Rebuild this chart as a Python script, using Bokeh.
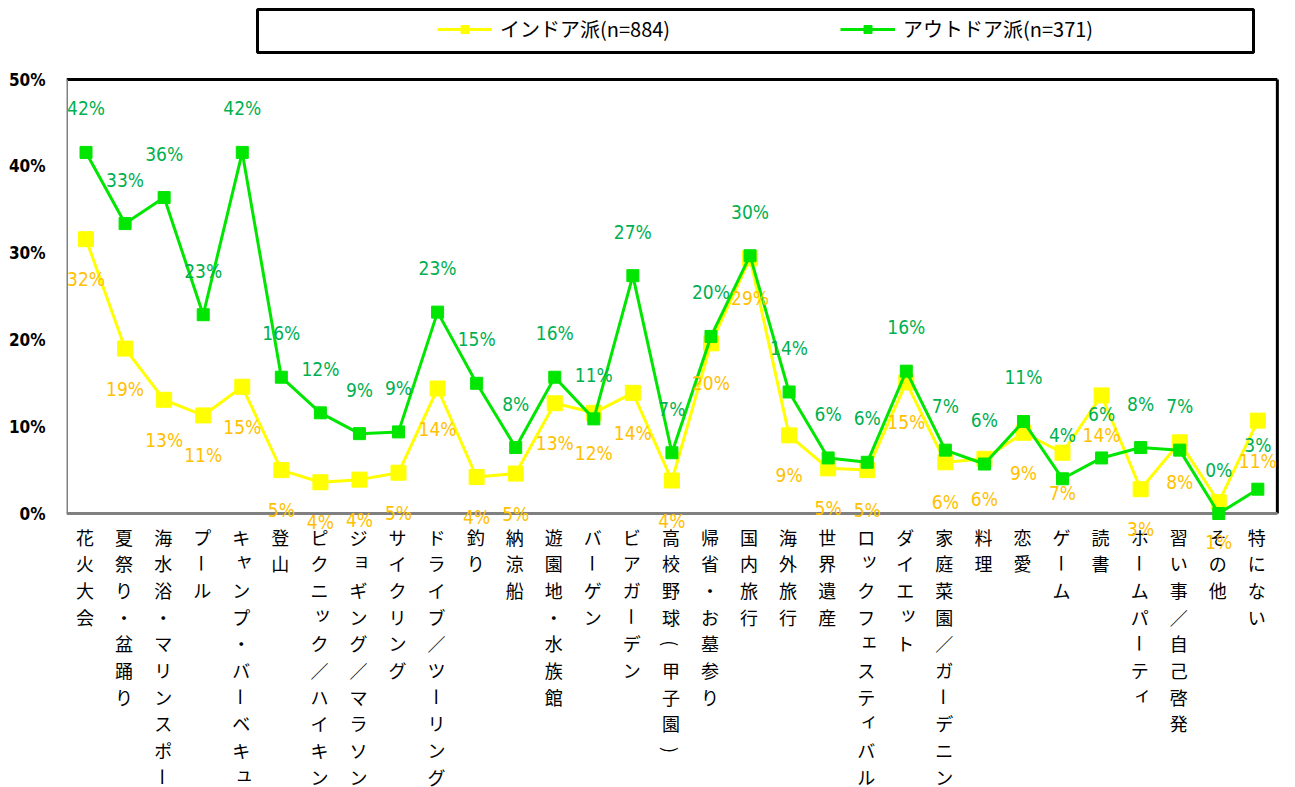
import math
from bokeh.plotting import figure
from bokeh.models import (Range1d, FixedTicker, PrintfTickFormatter, ColumnDataSource,
                          Legend, LegendItem)
from bokeh.core.properties import value
from bokeh.embed import file_html
from bokeh.resources import INLINE

# ---------------- data ----------------
categories = ["花火大会", "夏祭り・盆踊り", "海水浴・マリンスポーツ", "プール", "キャンプ・バーベキュー",
              "登山", "ピクニック／ハイキング", "ジョギング／マラソン", "サイクリング", "ドライブ／ツーリング",
              "釣り", "納涼船", "遊園地・水族館", "バーゲン", "ビアガーデン", "高校野球(甲子園)",
              "帰省・お墓参り", "国内旅行", "海外旅行", "世界遺産", "ロックフェスティバル", "ダイエット",
              "家庭菜園／ガーデニング", "料理", "恋愛", "ゲーム", "読書", "ホームパーティ",
              "習い事／自己啓発", "その他", "特にない"]
indoor = [31.6, 19.0, 13.1, 11.3, 14.6, 5.0, 3.6, 3.9, 4.7, 14.4, 4.2, 4.6, 12.7, 11.6, 13.9, 3.8,
          19.6, 29.4, 9.0, 5.2, 5.0, 15.1, 5.9, 6.3, 9.3, 7.0, 13.6, 2.8, 8.2, 1.3, 10.7]
outdoor = [41.6, 33.4, 36.4, 22.9, 41.6, 15.7, 11.6, 9.2, 9.4, 23.2, 15.0, 7.6, 15.7, 10.9, 27.4, 7.0,
           20.4, 29.7, 14.0, 6.4, 5.9, 16.4, 7.3, 5.7, 10.6, 4.0, 6.4, 7.6, 7.3, 0.0, 2.8]
series_names = ["インドア派(n=884)", "アウトドア派(n=371)"]
y_ticks = [0, 10, 20, 30, 40, 50]

# ---------------- geometry (figure pixels) ----------------
W, H = 1295, 787
LEFT = 66            # frame left edge
PX_PER_CAT = 39.06
TOP_PX = 79          # pixel row of the top tick (50%)
ZERO_PX = 513        # pixel row of 0%
PX_PER_PCT = (ZERO_PX - TOP_PX) / (y_ticks[-1] - y_ticks[0])

x_start = -0.5
x_end = x_start + (W - LEFT) / PX_PER_CAT
y_end = y_ticks[-1] + TOP_PX / PX_PER_PCT
y_start = -(H - ZERO_PX) / PX_PER_PCT

def px_x(px):
    return x_start + (px - LEFT) / PX_PER_CAT

def px_y(py):
    return y_end - py / PX_PER_PCT

NUM_FONT = "DejaVu Sans Condensed, Roboto"
CJK_FONT = "Noto Sans CJK JP"
YELLOW = "#FFFF00"
GREEN = "#00E600"

n = len(categories)
idx = list(range(n))

p = figure(width=W, height=H, x_range=Range1d(x_start, x_end), y_range=Range1d(y_start, y_end),
           output_backend="svg", toolbar_location=None, x_axis_location=None,
           min_border_left=LEFT, min_border_right=0, min_border_top=0, min_border_bottom=0,
           outline_line_color=None, background_fill_color="white", border_fill_color="white")
p.xgrid.visible = False
p.ygrid.visible = False

ax = p.yaxis[0]
ax.ticker = FixedTicker(ticks=y_ticks)
ax.formatter = PrintfTickFormatter(format="%d%%")
ax.axis_line_color = None
ax.major_tick_line_color = None
ax.minor_tick_line_color = None
ax.major_label_text_font = NUM_FONT
ax.major_label_text_font_style = "bold"
ax.major_label_text_font_size = "17px"
ax.major_label_text_color = "black"
ax.major_label_standoff = 15

# ---------------- plot-area border ----------------
x_lo, x_hi = -0.5, n - 0.5
y_lo, y_hi = y_ticks[0], y_ticks[-1]
# top and right edges (black)
p.segment(x0=[x_lo, x_hi], y0=[y_hi, y_hi], x1=[x_hi, x_hi], y1=[y_hi, y_lo],
          line_color="black", line_width=3)
# left and bottom edges (grey axis lines)
p.segment(x0=[x_lo, x_lo], y0=[y_lo, y_lo], x1=[x_lo, x_hi], y1=[y_hi, y_lo],
          line_color="#808080", line_width=3)

# ---------------- legend box ----------------
p.quad(left=[px_x(257)], right=[px_x(1253)], top=[px_y(9)], bottom=[px_y(52)],
       fill_color=None, line_color="black", line_width=3)

# ---------------- category labels (vertical writing) ----------------
cx, ch, cy_off, cx_off, cang = [], [], [], [], []
small = set("ッャュョィァェォ")
for i, name in enumerate(categories):
    for j, c in enumerate(name):
        cx.append(i)
        ch.append(c)
        off_y, off_x = 23 + j * 26.7, -1
        if c in small:
            off_y -= 4
            off_x += 3
        cy_off.append(off_y)
        cx_off.append(off_x)
        cang.append(-math.pi / 2 if c in "ー()" else 0.0)
csrc = ColumnDataSource(dict(x=cx, t=ch, yo=cy_off, xo=cx_off, a=cang))
p.text(x="x", y=0, text="t", y_offset="yo", x_offset="xo", angle="a", source=csrc,
       text_font=value(CJK_FONT), text_font_size="18px", text_color="black",
       text_align="center", text_baseline="middle")

# ---------------- series ----------------
ysrc = ColumnDataSource(dict(x=idx, y=indoor, lab=[f"{round(v)}%" for v in indoor]))
gsrc = ColumnDataSource(dict(x=idx, y=outdoor, lab=[f"{round(v)}%" for v in outdoor]))

yl = p.line("x", "y", source=ysrc, line_color=YELLOW, line_width=3)
ys = p.scatter("x", "y", source=ysrc, marker="square", size=15, fill_color=YELLOW,
               line_color=YELLOW)
gl = p.line("x", "y", source=gsrc, line_color=GREEN, line_width=3)
gs = p.scatter("x", "y", source=gsrc, marker="square", size=12, fill_color=GREEN,
               line_color=GREEN)

p.text(x="x", y="y", text="lab", source=ysrc, y_offset=40, text_font=value(NUM_FONT),
       text_font_size="19px", text_color="#FFC000", text_align="center", text_baseline="middle")
p.text(x="x", y="y", text="lab", source=gsrc, y_offset=-44, text_font=value(NUM_FONT),
       text_font_size="19px", text_color="#00B050", text_align="center", text_baseline="middle")

legend = Legend(items=[LegendItem(label=series_names[0], renderers=[yl, ys]),
                       LegendItem(label=series_names[1], renderers=[gl, gs])],
                orientation="horizontal", location=(437 - LEFT, H - 43),
                glyph_width=55, glyph_height=20, label_standoff=8, label_width=300, spacing=40,
                padding=0, margin=0, border_line_color=None, background_fill_alpha=0,
                label_text_font=CJK_FONT, label_text_font_size="20px",
                label_text_color="black")
p.add_layout(legend)

open("out.html", "w").write(file_html(p, INLINE))
